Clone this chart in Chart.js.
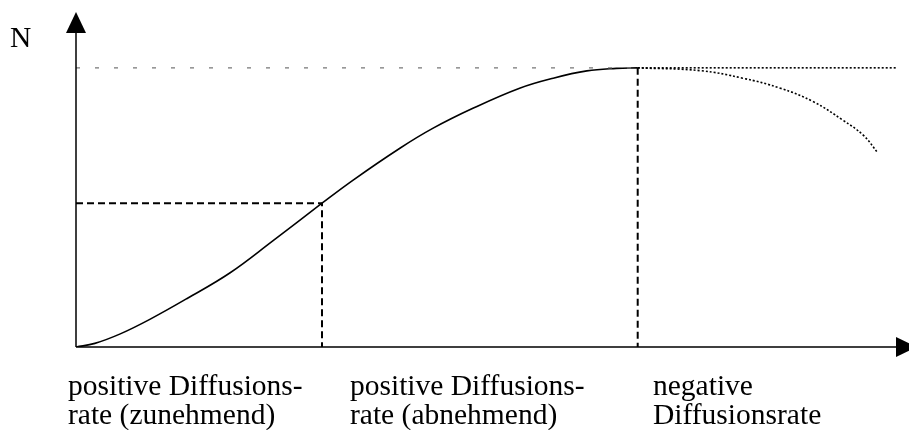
<!DOCTYPE html>
<html>
<head>
<meta charset="utf-8">
<script src="https://cdn.jsdelivr.net/npm/chart.js@4"></script>
<style>
  html, body { margin: 0; padding: 0; background: #fff; }
  canvas { display: block; }
</style>
</head>
<body>
<canvas id="diffusion" width="909" height="430"></canvas>
<script>
// S-curve of adoption N over time (x in time units, y in % of saturation)
const curveX = [0, 2.3, 5.4, 9.0, 13.5, 18.8, 24.0, 30.0, 33.8, 39.5, 43.5, 48.4, 54.1, 58.2, 62.3, 65.9, 68.5];
const curveY = [0, 1.3, 4.7, 9.9, 17.3, 26.6, 38.0, 51.5, 59.8, 71.2, 78.3, 85.5, 92.7, 96.3, 98.9, 99.8, 100];

// after the peak: constant level and decline
const flatX = [68.5, 100];
const flatY = [100, 100];
const declineX = [68.5, 76.1, 81.3, 85.9, 89.9, 93.5, 96.0, 97.8];
const declineY = [100, 99, 96.3, 92.7, 87.9, 81.3, 75.9, 69.5];

// helper lines: inflection point and peak
const inflection = [30, 51.5];
const peak = [68.5, 100];

const phaseLabels = [
  ["positive Diffusions-", "rate (zunehmend)"],
  ["positive Diffusions-", "rate (abnehmend)"],
  ["negative", "Diffusionsrate"]
];
const phaseLabelX = [68, 350, 653];
const yTitle = "N";

const pts = (xs, ys) => xs.map((x, i) => ({ x: x, y: ys[i] }));

const axesPlugin = {
  id: "axes",
  afterDatasetsDraw(chart) {
    const ctx = chart.ctx;
    const xs = chart.scales.x, ys = chart.scales.y;
    const ox = xs.getPixelForValue(0), oy = ys.getPixelForValue(0);
    const top = chart.chartArea.top, right = chart.chartArea.right;
    ctx.save();
    ctx.strokeStyle = "#000";
    ctx.fillStyle = "#000";
    ctx.lineWidth = 1.5;
    ctx.beginPath();
    ctx.moveTo(ox, oy); ctx.lineTo(ox, top + 20);
    ctx.moveTo(ox, oy); ctx.lineTo(right, oy);
    ctx.stroke();
    // arrow heads
    ctx.beginPath();
    ctx.moveTo(ox, top); ctx.lineTo(ox - 10, top + 21); ctx.lineTo(ox + 10, top + 21);
    ctx.closePath(); ctx.fill();
    ctx.beginPath();
    ctx.moveTo(right + 21, oy); ctx.lineTo(right, oy - 10); ctx.lineTo(right, oy + 10);
    ctx.closePath(); ctx.fill();

    ctx.font = "29.5px 'Liberation Serif', 'Times New Roman', serif";
    ctx.textBaseline = "alphabetic";
    ctx.fillText(yTitle, 10, 47);
    phaseLabels.forEach((lines, i) => {
      lines.forEach((t, j) => ctx.fillText(t, phaseLabelX[i], 395 + j * 29));
    });
    ctx.restore();
  }
};

new Chart(document.getElementById("diffusion"), {
  type: "scatter",
  data: {
    datasets: [
      {
        data: [{ x: 0, y: peak[1] }, { x: peak[0], y: peak[1] }],
        showLine: true, borderColor: "#777", borderWidth: 1.2, borderDash: [4, 15], pointRadius: 0
      },
      {
        data: [{ x: 0, y: inflection[1] }, { x: inflection[0], y: inflection[1] }, { x: inflection[0], y: 0 }],
        showLine: true, borderColor: "#000", borderWidth: 2, borderDash: [7, 4], pointRadius: 0
      },
      {
        data: [{ x: peak[0], y: peak[1] }, { x: peak[0], y: 0 }],
        showLine: true, borderColor: "#000", borderWidth: 2, borderDash: [7, 4], pointRadius: 0
      },
      {
        data: pts(flatX, flatY),
        showLine: true, borderColor: "#000", borderWidth: 1.6, borderDash: [2, 2], pointRadius: 0
      },
      {
        data: pts(declineX, declineY),
        showLine: true, borderColor: "#000", borderWidth: 1.6, borderDash: [2, 2], pointRadius: 0,
        tension: 0.4
      },
      {
        data: pts(curveX, curveY),
        showLine: true, borderColor: "#000", borderWidth: 1.6, pointRadius: 0,
        tension: 0.4
      }
    ]
  },
  options: {
    responsive: false,
    animation: false,
    layout: { padding: { left: 76, right: 13, top: 12, bottom: 83 } },
    plugins: { legend: { display: false }, tooltip: { enabled: false } },
    scales: {
      x: { type: "linear", min: 0, max: 100, display: false },
      y: { type: "linear", min: 0, max: 120, display: false }
    }
  },
  plugins: [axesPlugin]
});
</script>
</body>
</html>
